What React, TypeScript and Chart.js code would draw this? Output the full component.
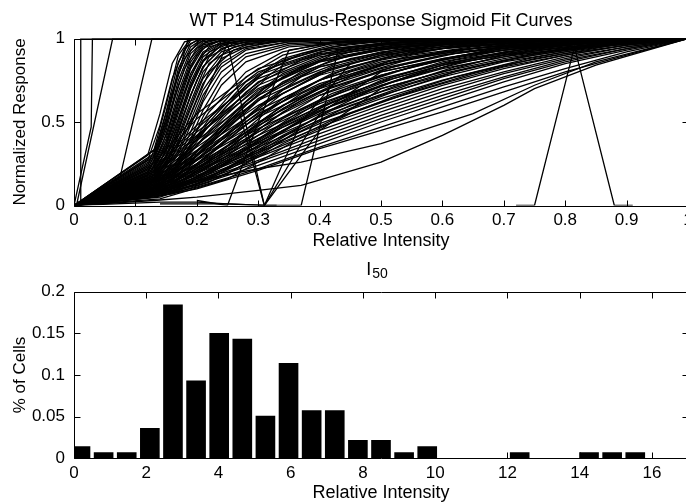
import React, { useEffect, useRef } from "react";
import { Chart, registerables } from "chart.js";

Chart.register(...registerables);

const FONT = "'Liberation Sans', Arial, 'DejaVu Sans', sans-serif";

// ---------- Top panel: sigmoid fit curves ----------
const topTitle = "WT P14 Stimulus-Response Sigmoid Fit Curves";
const topXLabel = "Relative Intensity";
const topYLabel = "Normalized Response";

// steep curves (sampled on steepX)
const steepX = [0, 0.13, 0.15, 0.17, 0.19, 0.21, 0.24, 0.28, 0.35, 0.5, 1];
const steepCurves = [
  [0, 0.33, 0.6, 0.9, 1, 1, 1, 1, 1, 1, 1],
  [0, 0.3, 0.52, 0.82, 0.97, 1, 1, 1, 1, 1, 1],
  [0, 0.28, 0.47, 0.75, 0.93, 0.99, 1, 1, 1, 1, 1],
  [0, 0.26, 0.42, 0.68, 0.88, 0.97, 1, 1, 1, 1, 1],
  [0, 0.24, 0.38, 0.62, 0.84, 0.95, 0.99, 1, 1, 1, 1],
  [0, 0.22, 0.35, 0.57, 0.79, 0.92, 0.98, 1, 1, 1, 1],
  [0, 0.21, 0.32, 0.52, 0.74, 0.89, 0.97, 0.99, 1, 1, 1],
  [0, 0.2, 0.3, 0.48, 0.7, 0.86, 0.96, 0.99, 1, 1, 1],
  [0, 0.19, 0.28, 0.45, 0.66, 0.83, 0.94, 0.98, 1, 1, 1],
  [0, 0.18, 0.26, 0.42, 0.62, 0.8, 0.92, 0.97, 0.99, 1, 1],
  [0, 0.17, 0.24, 0.39, 0.58, 0.76, 0.9, 0.96, 0.99, 1, 1],
  [0, 0.16, 0.23, 0.36, 0.55, 0.73, 0.88, 0.95, 0.99, 1, 1],
  [0, 0.15, 0.21, 0.33, 0.51, 0.69, 0.85, 0.94, 0.98, 1, 1],
  [0, 0.14, 0.2, 0.31, 0.48, 0.66, 0.83, 0.93, 0.98, 1, 1],
  [0, 0.13, 0.18, 0.28, 0.44, 0.62, 0.8, 0.91, 0.97, 0.99, 1],
  [0, 0.31, 0.56, 0.86, 0.99, 1, 1, 1, 1, 1, 1],
  [0, 0.29, 0.5, 0.79, 0.95, 1, 1, 1, 1, 1, 1],
  [0, 0.27, 0.45, 0.72, 0.91, 0.98, 1, 1, 1, 1, 1],
  [0, 0.25, 0.4, 0.65, 0.86, 0.96, 0.99, 1, 1, 1, 1],
  [0, 0.23, 0.36, 0.6, 0.82, 0.94, 0.99, 1, 1, 1, 1],
  [0, 0.2, 0.33, 0.55, 0.77, 0.91, 0.97, 0.99, 1, 1, 1],
  [0, 0.18, 0.29, 0.5, 0.72, 0.87, 0.96, 0.99, 1, 1, 1],
  [0, 0.16, 0.25, 0.44, 0.66, 0.83, 0.94, 0.98, 1, 1, 1],
  [0, 0.12, 0.17, 0.26, 0.4, 0.57, 0.76, 0.89, 0.96, 0.99, 1],
  [0, 0.11, 0.16, 0.24, 0.37, 0.53, 0.72, 0.86, 0.95, 0.99, 1],
];

// second group of steep curves (sampled on steepX2)
const steepX2 = [0, 0.12, 0.14, 0.16, 0.18, 0.2, 0.22, 0.26, 0.32, 0.45, 1];
const steepCurves2 = [
  [0, 0.3, 0.55, 0.85, 0.98, 1, 1, 1, 1, 1, 1],
  [0, 0.27, 0.48, 0.76, 0.94, 0.99, 1, 1, 1, 1, 1],
  [0, 0.24, 0.42, 0.68, 0.88, 0.97, 1, 1, 1, 1, 1],
  [0, 0.22, 0.37, 0.6, 0.82, 0.94, 0.99, 1, 1, 1, 1],
  [0, 0.2, 0.33, 0.53, 0.75, 0.9, 0.97, 1, 1, 1, 1],
  [0, 0.18, 0.29, 0.47, 0.68, 0.85, 0.95, 0.99, 1, 1, 1],
  [0, 0.16, 0.26, 0.42, 0.62, 0.8, 0.92, 0.98, 1, 1, 1],
  [0, 0.14, 0.23, 0.37, 0.56, 0.75, 0.89, 0.97, 0.99, 1, 1],
  [0, 0.12, 0.2, 0.33, 0.5, 0.69, 0.85, 0.95, 0.99, 1, 1],
  [0, 0.11, 0.18, 0.29, 0.45, 0.63, 0.8, 0.93, 0.98, 1, 1],
];

// gradual curves (sampled on fanX)
const fanX = [0, 0.13, 0.2, 0.3, 0.4, 0.5, 0.6, 0.7, 0.8, 0.9, 1];
const fanCurves = [
  [0, 0.22, 0.48, 0.76, 0.9, 0.96, 0.98, 0.99, 1, 1, 1],
  [0, 0.2, 0.44, 0.72, 0.87, 0.94, 0.97, 0.99, 1, 1, 1],
  [0, 0.19, 0.42, 0.7, 0.86, 0.93, 0.97, 0.98, 0.99, 1, 1],
  [0, 0.18, 0.39, 0.66, 0.83, 0.91, 0.96, 0.98, 0.99, 1, 1],
  [0, 0.17, 0.37, 0.63, 0.8, 0.9, 0.95, 0.97, 0.99, 1, 1],
  [0, 0.16, 0.35, 0.6, 0.78, 0.88, 0.94, 0.97, 0.99, 1, 1],
  [0, 0.16, 0.33, 0.57, 0.75, 0.86, 0.92, 0.96, 0.98, 0.99, 1],
  [0, 0.15, 0.31, 0.55, 0.73, 0.84, 0.91, 0.95, 0.98, 0.99, 1],
  [0, 0.14, 0.3, 0.53, 0.7, 0.82, 0.9, 0.95, 0.97, 0.99, 1],
  [0, 0.14, 0.28, 0.5, 0.68, 0.8, 0.88, 0.94, 0.97, 0.99, 1],
  [0, 0.13, 0.27, 0.48, 0.66, 0.78, 0.87, 0.93, 0.96, 0.99, 1],
  [0, 0.12, 0.25, 0.46, 0.63, 0.76, 0.85, 0.91, 0.96, 0.98, 1],
  [0, 0.12, 0.24, 0.44, 0.61, 0.74, 0.84, 0.9, 0.95, 0.98, 1],
  [0, 0.11, 0.23, 0.42, 0.59, 0.72, 0.82, 0.89, 0.94, 0.98, 1],
  [0, 0.11, 0.22, 0.4, 0.57, 0.7, 0.8, 0.88, 0.94, 0.97, 1],
  [0, 0.1, 0.21, 0.38, 0.55, 0.68, 0.79, 0.87, 0.93, 0.97, 1],
  [0, 0.1, 0.2, 0.37, 0.53, 0.66, 0.77, 0.86, 0.92, 0.97, 1],
  [0, 0.09, 0.19, 0.35, 0.51, 0.64, 0.75, 0.84, 0.91, 0.96, 1],
  [0, 0.09, 0.18, 0.33, 0.49, 0.62, 0.73, 0.83, 0.9, 0.96, 1],
  [0, 0.08, 0.17, 0.32, 0.47, 0.6, 0.72, 0.82, 0.9, 0.96, 1],
  [0, 0.08, 0.16, 0.3, 0.45, 0.58, 0.7, 0.8, 0.89, 0.95, 1],
  [0, 0.07, 0.15, 0.29, 0.43, 0.56, 0.68, 0.79, 0.88, 0.95, 1],
  [0, 0.07, 0.14, 0.27, 0.41, 0.54, 0.66, 0.77, 0.87, 0.94, 1],
  [0, 0.06, 0.13, 0.26, 0.39, 0.52, 0.64, 0.76, 0.86, 0.94, 1],
  [0, 0.06, 0.12, 0.24, 0.37, 0.5, 0.62, 0.74, 0.85, 0.93, 1],
  [0, 0.05, 0.11, 0.22, 0.35, 0.47, 0.59, 0.71, 0.82, 0.92, 1],
  [0, 0.05, 0.1, 0.21, 0.34, 0.45, 0.56, 0.68, 0.8, 0.9, 1],
  [0, 0.25, 0.55, 0.82, 0.93, 0.97, 0.99, 1, 1, 1, 1],
  [0, 0.23, 0.52, 0.8, 0.92, 0.97, 0.99, 1, 1, 1, 1],
  [0, 0.21, 0.46, 0.78, 0.91, 0.96, 0.98, 0.99, 1, 1, 1],
  [0, 0.18, 0.41, 0.74, 0.89, 0.95, 0.98, 0.99, 1, 1, 1],
  [0, 0.15, 0.36, 0.69, 0.86, 0.94, 0.97, 0.99, 1, 1, 1],
  [0, 0.13, 0.32, 0.64, 0.83, 0.92, 0.96, 0.98, 0.99, 1, 1],
  [0, 0.11, 0.28, 0.59, 0.79, 0.9, 0.95, 0.98, 0.99, 1, 1],
  [0, 0.1, 0.25, 0.54, 0.75, 0.87, 0.94, 0.97, 0.99, 1, 1],
  [0, 0.09, 0.22, 0.49, 0.71, 0.84, 0.92, 0.96, 0.98, 0.99, 1],
  [0, 0.08, 0.19, 0.44, 0.66, 0.81, 0.9, 0.95, 0.98, 0.99, 1],
  [0, 0.07, 0.17, 0.4, 0.62, 0.78, 0.88, 0.94, 0.97, 0.99, 1],
  [0, 0.06, 0.15, 0.36, 0.58, 0.75, 0.86, 0.93, 0.97, 0.99, 1],
  [0, 0.05, 0.13, 0.32, 0.54, 0.72, 0.84, 0.92, 0.96, 0.99, 1],
];

// mid curves (sampled on midX)
const midX = [0, 0.14, 0.25, 0.31, 0.37, 0.45, 0.55, 0.65, 0.75, 0.88, 1];
const midCurves = [
  [0, 0.12, 0.5, 0.7, 0.83, 0.92, 0.97, 0.99, 1, 1, 1],
  [0, 0.1, 0.42, 0.62, 0.77, 0.88, 0.95, 0.98, 0.99, 1, 1],
  [0, 0.09, 0.36, 0.55, 0.7, 0.83, 0.92, 0.96, 0.98, 1, 1],
  [0, 0.08, 0.3, 0.48, 0.63, 0.77, 0.88, 0.94, 0.97, 0.99, 1],
  [0, 0.07, 0.26, 0.42, 0.57, 0.71, 0.83, 0.91, 0.95, 0.99, 1],
  [0, 0.06, 0.22, 0.37, 0.51, 0.65, 0.78, 0.87, 0.93, 0.98, 1],
  [0, 0.05, 0.19, 0.32, 0.46, 0.6, 0.73, 0.83, 0.9, 0.97, 1],
  [0, 0.15, 0.6, 0.8, 0.91, 0.97, 0.99, 1, 1, 1, 1],
  [0, 0.13, 0.55, 0.75, 0.87, 0.95, 0.98, 1, 1, 1, 1],
  [0, 0.11, 0.46, 0.66, 0.8, 0.9, 0.96, 0.98, 0.99, 1, 1],
  [0, 0.04, 0.16, 0.28, 0.41, 0.55, 0.68, 0.79, 0.88, 0.96, 1],
  [0, 0.09, 0.33, 0.52, 0.67, 0.8, 0.9, 0.95, 0.98, 1, 1],
];

// late curves (sampled on lateX)
const lateX = [0, 0.16, 0.22, 0.28, 0.34, 0.42, 0.52, 0.62, 0.74, 0.86, 1];
const lateCurves = [
  [0, 0.2, 0.5, 0.74, 0.88, 0.96, 0.99, 1, 1, 1, 1],
  [0, 0.18, 0.45, 0.68, 0.84, 0.94, 0.98, 0.99, 1, 1, 1],
  [0, 0.17, 0.4, 0.62, 0.79, 0.91, 0.97, 0.99, 1, 1, 1],
  [0, 0.16, 0.36, 0.57, 0.74, 0.87, 0.95, 0.98, 0.99, 1, 1],
  [0, 0.15, 0.33, 0.52, 0.69, 0.83, 0.93, 0.97, 0.99, 1, 1],
  [0, 0.14, 0.3, 0.48, 0.64, 0.79, 0.9, 0.95, 0.98, 1, 1],
  [0, 0.13, 0.27, 0.44, 0.6, 0.75, 0.87, 0.93, 0.97, 0.99, 1],
  [0, 0.12, 0.25, 0.4, 0.56, 0.71, 0.83, 0.91, 0.96, 0.99, 1],
  [0, 0.11, 0.23, 0.37, 0.52, 0.67, 0.8, 0.89, 0.95, 0.98, 1],
  [0, 0.1, 0.21, 0.34, 0.48, 0.63, 0.77, 0.87, 0.94, 0.98, 1],
  [0, 0.1, 0.19, 0.31, 0.45, 0.6, 0.74, 0.85, 0.93, 0.98, 1],
  [0, 0.09, 0.17, 0.29, 0.42, 0.57, 0.71, 0.83, 0.92, 0.97, 1],
  [0, 0.08, 0.16, 0.27, 0.39, 0.54, 0.68, 0.8, 0.9, 0.97, 1],
  [0, 0.07, 0.14, 0.25, 0.37, 0.51, 0.65, 0.77, 0.88, 0.96, 1],
  [0, 0.22, 0.56, 0.8, 0.92, 0.98, 1, 1, 1, 1, 1],
  [0, 0.2, 0.52, 0.77, 0.9, 0.97, 0.99, 1, 1, 1, 1],
  [0, 0.19, 0.48, 0.72, 0.87, 0.95, 0.99, 1, 1, 1, 1],
  [0, 0.15, 0.38, 0.6, 0.77, 0.9, 0.96, 0.98, 1, 1, 1],
  [0, 0.13, 0.31, 0.5, 0.67, 0.82, 0.92, 0.96, 0.99, 1, 1],
  [0, 0.11, 0.26, 0.42, 0.58, 0.74, 0.86, 0.93, 0.97, 0.99, 1],
  [0, 0.09, 0.2, 0.33, 0.47, 0.62, 0.76, 0.86, 0.94, 0.98, 1],
];

// irregular curves, each with its own sample positions
const oddCurvesX = [
  [0, 0.01, 0.011, 0.1, 1],
  [0, 0.028, 0.03, 1],
  [0.004, 0.063, 0.2, 1],
  [0, 0.075, 0.127, 0.3, 1],
  [0, 0.137, 0.186, 0.3, 1],
  [0, 0.14, 0.2, 0.25, 0.31, 0.37, 0.45, 0.6, 1],
  [0, 0.13, 0.2, 0.25, 0.31, 0.33],
  [0.14, 0.25, 0.31, 0.4, 0.5, 0.7, 1],
  [0.2, 0.25, 0.3, 0.35, 0.45, 0.6, 1],
  [0.3, 0.37, 0.43, 0.55, 1],
  [0.72, 0.75, 0.815, 0.88, 0.91],
  [0, 0.13, 0.2, 0.27, 0.31, 0.4, 0.5, 0.7, 1],
  [0, 0.13, 0.2, 0.3, 0.37, 0.5, 0.6, 0.7, 0.75, 0.85, 1],
  [0, 0.13, 0.2, 0.3, 0.37, 0.5, 0.65, 0.75, 0.85, 1],
];
const oddCurvesY = [
  [0, 0, 1, 1, 1],
  [0, 0.47, 1, 1],
  [0, 1, 1, 1],
  [0, 0.17, 1, 1, 1],
  [0, 0.35, 1, 1, 1],
  [0, 0.02, 0.02, 0.01, 0, 0.5, 0.85, 0.97, 1],
  [0, 0.15, 0.55, 0.97, 0, 0],
  [0.01, 0.01, 0, 0.55, 0.8, 0.95, 1],
  [0.03, 0, 0.5, 0.93, 0.99, 1, 1],
  [0, 0, 0.93, 0.99, 1],
  [0, 0, 0.95, 0, 0],
  [0, 0.1, 0.3, 0.55, 0, 0.45, 0.7, 0.9, 1],
  [0, 0.03, 0.05, 0.09, 0.12, 0.26, 0.42, 0.6, 0.7, 0.84, 1],
  [0, 0.08, 0.15, 0.22, 0.26, 0.37, 0.55, 0.72, 0.86, 1],
];

// ---------- Bottom panel: I50 histogram ----------
const histTitleMain = "I";
const histTitleSub = "50";
const histXLabel = "Relative Intensity";
const histYLabel = "% of Cells";
const binCenters = [
  0.18, 0.82, 1.46, 2.1, 2.74, 3.38, 4.02, 4.66, 5.3, 5.94, 6.58, 7.22, 7.86,
  8.5, 9.14, 9.78, 10.42, 11.06, 11.7, 12.34, 12.98, 13.62, 14.26, 14.9, 15.54,
];
const cellFractions = [
  0.0146, 0.0073, 0.0073, 0.0365, 0.1845, 0.0935, 0.1505, 0.1435, 0.0511,
  0.1145, 0.0576, 0.0576, 0.0219, 0.0219, 0.0073, 0.0146, 0, 0, 0, 0.0073, 0,
  0, 0.0073, 0.0073, 0.0073,
];

// ---------- helpers ----------
function lineDataset(xs: number[], ys: number[]) {
  return {
    data: xs.map((x, i) => ({ x, y: ys[i] })),
    showLine: true,
    borderColor: "#000",
    borderWidth: 1.3,
    pointRadius: 0,
    pointHoverRadius: 0,
    fill: false,
    tension: 0,
  };
}

const fmt = (v: any) => String(parseFloat(Number(v).toFixed(4)));

const matlabAxes = {
  id: "matlabAxes",
  afterDatasetsDraw(chart: any) {
    const { ctx, chartArea: a, scales } = chart;
    const L = Math.round(a.left) + 0.5;
    const R = Math.round(a.right) + 0.5;
    const T = Math.round(a.top) + 0.5;
    const B = Math.round(a.bottom) + 0.5;
    const len = 6;
    ctx.save();
    ctx.strokeStyle = "#000";
    ctx.lineWidth = 1;
    ctx.beginPath();
    ctx.rect(L, T, R - L, B - T);
    for (const t of scales.x.ticks) {
      const p = Math.round(scales.x.getPixelForValue(t.value)) + 0.5;
      ctx.moveTo(p, B);
      ctx.lineTo(p, B - len);
      ctx.moveTo(p, T);
      ctx.lineTo(p, T + len);
    }
    for (const t of scales.y.ticks) {
      const p = Math.round(scales.y.getPixelForValue(t.value)) + 0.5;
      ctx.moveTo(L, p);
      ctx.lineTo(L + len, p);
      ctx.moveTo(R, p);
      ctx.lineTo(R - len, p);
    }
    ctx.stroke();
    ctx.restore();
  },
};

const subscriptTitle = {
  id: "subscriptTitle",
  afterDraw(chart: any) {
    const { ctx, chartArea: a } = chart;
    ctx.save();
    ctx.fillStyle = "#000";
    ctx.textBaseline = "alphabetic";
    ctx.textAlign = "left";
    ctx.font = `18px ${FONT}`;
    const mw = ctx.measureText(histTitleMain).width;
    ctx.font = `14px ${FONT}`;
    const sw = ctx.measureText(histTitleSub).width;
    const cx = (a.left + a.right) / 2 - 4;
    const x0 = cx - (mw + sw + 1) / 2;
    ctx.font = `18px ${FONT}`;
    ctx.fillText(histTitleMain, x0, a.top - 16.5);
    ctx.font = `14px ${FONT}`;
    ctx.fillText(histTitleSub, x0 + mw + 1, a.top - 13.5);
    ctx.restore();
  },
};

const tickFont = { family: FONT, size: 17 };
const labelFont = { family: FONT, size: 18 };
const yLabelFont = { family: FONT, size: 17 };

export default function App() {
  const topRef = useRef<HTMLCanvasElement>(null);
  const botRef = useRef<HTMLCanvasElement>(null);

  useEffect(() => {
    const datasets = [
      ...steepCurves.map((ys) => lineDataset(steepX, ys)),
      ...steepCurves2.map((ys) => lineDataset(steepX2, ys)),
      ...fanCurves.map((ys) => lineDataset(fanX, ys)),
      ...midCurves.map((ys) => lineDataset(midX, ys)),
      ...lateCurves.map((ys) => lineDataset(lateX, ys)),
      ...oddCurvesX.map((xs, i) => lineDataset(xs, oddCurvesY[i])),
    ];

    const top = new Chart(topRef.current as HTMLCanvasElement, {
      type: "scatter",
      data: { datasets: datasets as any },
      options: {
        responsive: false,
        animation: false,
        layout: { padding: { left: 0, right: 32, top: 0, bottom: 0 } },
        plugins: {
          legend: { display: false },
          tooltip: { enabled: false },
          title: {
            display: true,
            text: topTitle,
            color: "#000",
            fullSize: false,
            font: { ...labelFont, weight: "normal" },
            padding: { top: 10, bottom: 6.9 },
          },
        },
        scales: {
          x: {
            type: "linear",
            min: 0,
            max: 1,
            ticks: { stepSize: 0.1, color: "#000", font: tickFont, padding: 5, maxRotation: 0, autoSkip: false, callback: fmt },
            grid: { display: false, drawTicks: false },
            border: { display: false },
            title: { display: true, text: topXLabel, color: "#000", font: labelFont, padding: { top: 0, bottom: 0 } },
            afterFit: (s: any) => {
              s.height = 46.5;
            },
          },
          y: {
            type: "linear",
            min: 0,
            max: 1,
            ticks: { stepSize: 0.5, color: "#000", font: tickFont, padding: 9, callback: fmt },
            grid: { display: false, drawTicks: false },
            border: { display: false },
            title: { display: true, text: topYLabel, color: "#000", font: yLabelFont, padding: { top: 10, bottom: 0 } },
            afterFit: (s: any) => {
              s.width = 74;
            },
          },
        },
      } as any,
      plugins: [matlabAxes],
    });

    const bot = new Chart(botRef.current as HTMLCanvasElement, {
      type: "bar",
      data: {
        datasets: [
          {
            data: binCenters.map((c, i) => ({ x: c, y: cellFractions[i] })),
            backgroundColor: "#000",
            borderWidth: 0,
            barPercentage: 0.85,
            categoryPercentage: 1,
            clip: 0,
          } as any,
        ],
      },
      options: {
        responsive: false,
        animation: false,
        layout: { padding: { left: 0, right: 32, top: 39.7, bottom: 0 } },
        plugins: {
          legend: { display: false },
          tooltip: { enabled: false },
          title: { display: false },
        },
        scales: {
          x: {
            type: "linear",
            min: 0,
            max: 17,
            bounds: "data",
            offset: false,
            ticks: { stepSize: 2, color: "#000", font: tickFont, padding: 5, maxRotation: 0, autoSkip: false, callback: fmt },
            afterBuildTicks: (s: any) => {
              s.ticks = s.ticks.filter((t: any) => t.value % 2 === 0);
            },
            grid: { display: false, drawTicks: false, offset: false },
            border: { display: false },
            title: { display: true, text: histXLabel, color: "#000", font: labelFont, padding: { top: 0, bottom: 0 } },
            afterFit: (s: any) => {
              s.height = 45.7;
            },
          },
          y: {
            type: "linear",
            min: 0,
            max: 0.2,
            ticks: { stepSize: 0.05, color: "#000", font: tickFont, padding: 9, callback: fmt },
            grid: { display: false, drawTicks: false },
            border: { display: false },
            title: { display: true, text: histYLabel, color: "#000", font: yLabelFont, padding: { top: 10, bottom: 0 } },
            afterFit: (s: any) => {
              s.width = 74;
            },
          },
        },
      } as any,
      plugins: [matlabAxes, subscriptTitle],
    });

    return () => {
      top.destroy();
      bot.destroy();
    };
  }, []);

  return (
    <div
      style={{
        position: "fixed",
        left: 0,
        top: 0,
        width: 686,
        height: 504,
        overflow: "hidden",
        background: "#fff",
      }}
    >
      <canvas
        ref={topRef}
        width={720}
        height={252}
        style={{ position: "absolute", left: 0, top: 0, width: 720, height: 252 }}
      />
      <canvas
        ref={botRef}
        width={720}
        height={252}
        style={{ position: "absolute", left: 0, top: 252, width: 720, height: 252 }}
      />
    </div>
  );
}
